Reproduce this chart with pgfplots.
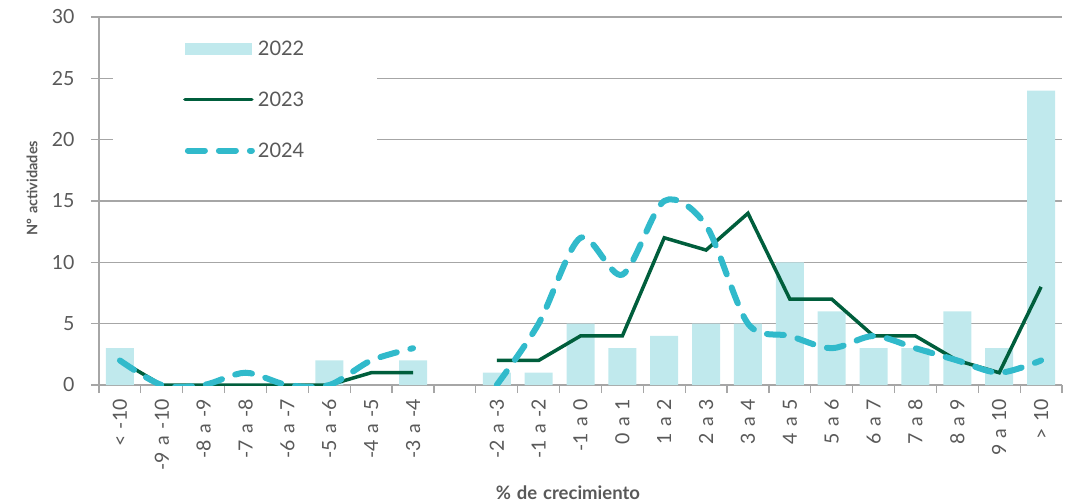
\documentclass[border=0pt]{standalone}
\usepackage{fontspec}
\setmainfont{Lato}[WordSpace=1.3]
\usepackage{pgfplots}
\pgfplotsset{compat=1.18}
\definecolor{barc}{HTML}{C0E9ED}
\definecolor{darkg}{HTML}{005E3C}
\definecolor{cyanl}{HTML}{31BACB}
\definecolor{txt}{HTML}{595959}
\definecolor{gridc}{HTML}{A6A6A6}
\begin{document}
\begin{tikzpicture}
\useasboundingbox (-99pt,-118pt) rectangle (977pt,385pt);
\begin{axis}[
  scale only axis, width=963pt, height=368pt,
  xmin=-0.5, xmax=22.5, ymin=0, ymax=30,
  axis lines*=left,
  axis line style={gridc, line width=1.2pt},
  ytick={0,5,...,30},
  ymajorgrids, grid style={gridc, line width=1.2pt},
  tick align=outside, major tick length=8pt,
  tick style={gridc, line width=1.2pt},
  xtick={-0.5,0.5,...,22.5}, xticklabels={},
  extra x ticks={0,1,...,22},
  extra x tick labels={{< -10},{-9 a -10},{-8 a -9},{-7 a -8},{-6 a -7},{-5 a -6},{-4 a -5},{-3 a -4},{},{-2 a -3},{-1 a -2},{-1 a 0},{0 a 1},{1 a 2},{2 a 3},{3 a 4},{4 a 5},{5 a 6},{6 a 7},{7 a 8},{8 a 9},{9 a 10},{> 10}},
  extra x tick style={major tick length=0pt, grid=none, xticklabel style={rotate=90, anchor=east, inner xsep=14pt}},
  tick label style={text=txt, font=\fontsize{19.5}{22}\selectfont},
  yticklabel style={xshift=-13pt},
  /pgf/number format/assume math mode=true,
  xlabel={\% de crecimiento},
  ylabel={Nº actividades},
  label style={text=txt},
  xlabel style={font=\bfseries\fontsize{18.5}{20}\selectfont, at={(axis description cs:0.487,-0.2935)}, anchor=center},
  ylabel style={font=\bfseries\fontsize{14.5}{17}\selectfont, at={(axis description cs:-0.0696,0.535)}, anchor=center},
  legend style={at={(axis description cs:0.0145,0.978)}, anchor=north west,
    draw=none, fill=white, inner xsep=70pt, inner ysep=16pt,
    row sep=36.5pt, text=txt, font=\fontsize{20}{22}\selectfont,
    nodes={inner ysep=0pt, inner xsep=3pt, text height=14.5pt, text depth=0pt}},
  legend cell align=left,
]
\addplot[ybar, bar width=28pt, fill=barc, draw=none,
  legend image code/.code={\fill[barc] (-3pt,-6pt) rectangle (64pt,6pt);}]
  coordinates {(0,3) (5,2) (7,2) (9,1) (10,1) (11,5) (12,3) (13,4) (14,5) (15,5) (16,10) (17,6) (18,3) (19,3) (20,6) (21,3) (22,24)};
\addlegendentry{2022}
\addplot[darkg, line width=3.5pt,
  legend image code/.code={\draw[darkg, line width=3.5pt, line cap=round] (-3pt,0pt) -- (64pt,0pt);}]
  coordinates {(0,2) (1,0) (2,0) (3,0) (4,0) (5,0) (6,1) (7,1)};
\addlegendentry{2023}
\addplot[cyanl, line width=6pt, line cap=round, dash pattern=on 17pt off 14pt, smooth,
  legend image code/.code={\draw[cyanl, line width=6pt, line cap=round, dash pattern=on 17pt off 14pt] (0pt,0pt) -- (64pt,0pt);}]
  coordinates {(0,2) (1,0) (2,0) (3,1) (4,0) (5,0) (6,2) (7,3)};
\addlegendentry{2024}
\addplot[darkg, line width=3.5pt, forget plot]
  coordinates {(9,2) (10,2) (11,4) (12,4) (13,12) (14,11) (15,14) (16,7) (17,7) (18,4) (19,4) (20,2) (21,1) (22,8)};
\addplot[cyanl, line width=6pt, line cap=round, dash pattern=on 17pt off 14pt, smooth, forget plot]
  coordinates {(9,0) (10,5) (11,12) (12,9) (13,15) (14,13) (15,5) (16,4) (17,3) (18,4) (19,3) (20,2) (21,1) (22,2)};
\end{axis}
\end{tikzpicture}
\end{document}
